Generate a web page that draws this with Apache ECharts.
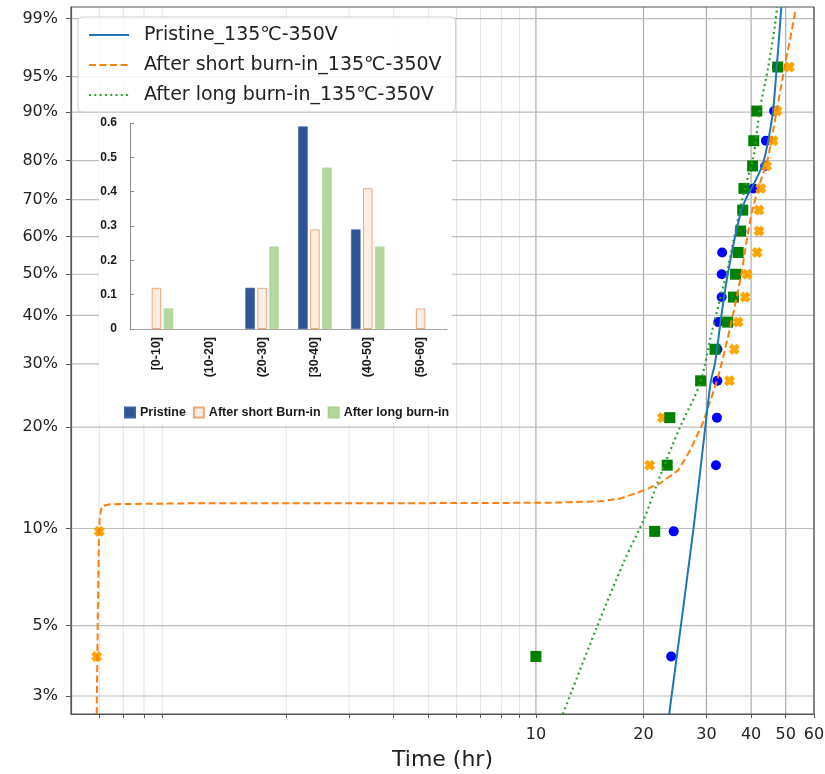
<!DOCTYPE html>
<html><head><meta charset="utf-8">
<script src="https://cdn.jsdelivr.net/npm/echarts@6/dist/echarts.min.js"></script>
<style>html,body{margin:0;padding:0;background:#fff}#c{width:825px;height:774px}</style>
</head><body><div id="c"></div>
<script>
// ---------- data ----------
// axis ranges
const xRange = [0.5, 60];          // hours (log axis)
const yRange = [2.63, 99.34];      // % (Weibull axis)
// tick values
const xMajorTicks = [10, 20, 30, 40, 50, 60];
const xMinorTicks = [0.6, 0.7, 0.8, 0.9, 2, 3, 4, 5, 6, 7, 8, 9];
const yTickLabels = [3, 5, 10, 20, 30, 40, 50, 60, 70, 80, 90, 95, 99];

// plotted unreliability levels (%) shared by the three data sets
const probLevels = [4.0, 9.8, 15.5, 21.3, 27.0, 32.8, 38.5, 44.3, 50.0, 55.7, 61.5, 67.2, 73.0, 78.7, 84.5, 90.2, 96.0];
// failure times (hr)
const pristineTimes = [23.9, 24.3, 31.9, 32.1, 32.2, 32.2, 32.4, 33.1, 33.1, 33.2, 37.6, 38.0, 40.6, 43.8, 44.0, 46.4, 47.3];
const shortTimes    = [0.59, 0.60, 20.8, 22.6, 34.8, 35.9, 36.8, 38.5, 39.0, 41.6, 42.1, 42.1, 42.6, 44.2, 46.1, 47.3, 51.2];
const longTimes     = [10.0, 21.5, 23.3, 23.7, 28.9, 31.7, 34.4, 35.7, 36.2, 36.8, 37.4, 37.9, 38.2, 40.4, 40.7, 41.5, 47.5];

// fitted curves (time hr, unreliability %)
const pristineFitT = [23.6, 27.6, 30.0, 30.9, 31.7, 33.1, 34.2, 35.9, 37.6, 38.9, 41.0, 43.2, 44.7, 46.1, 47.2, 48.0, 48.6];
const pristineFitF = [2.63, 9.99, 21.4, 27.1, 30.1, 40.5, 48.5, 59.0, 67.2, 70.7, 74.7, 79.3, 84.6, 90.3, 96.05, 98.4, 99.34];
const shortFitT = [0.590, 0.595, 0.599, 0.603, 0.610, 0.643, 1.148, 4.16, 10.9, 15.1, 17.2, 19.5, 22.2, 25.0, 27.0, 29.3, 32.3, 34.3, 36.0, 37.6, 38.9, 40.1, 41.5, 44.7, 47.2, 49.7, 52.0, 53.4];
const shortFitF = [2.63, 6.00, 9.88, 10.97, 11.68, 11.85, 11.93, 11.93, 11.97, 12.09, 12.32, 12.90, 13.66, 14.97, 17.15, 20.53, 27.44, 34.6, 41.96, 50.18, 59.0, 66.27, 71.65, 80.86, 90.3, 96.05, 98.54, 99.30];
const longFitT = [11.9, 14.8, 17.7, 20.0, 22.2, 25.3, 28.8, 31.0, 32.7, 34.5, 36.4, 38.3, 40.6, 42.3, 44.7, 46.6, 47.3];
const longFitF = [2.63, 4.94, 7.99, 10.6, 14.3, 20.0, 26.6, 36.1, 43.5, 51.9, 62.6, 72.5, 80.9, 90.3, 96.05, 98.69, 99.34];

// inset histogram
const binLabels = ['[0-10]', '(10-20]', '(20-30]', '[30-40]', '(40-50]', '(50-60]'];
const pristineFrac = [0, 0, 0.12, 0.59, 0.29, 0];
const shortFrac    = [0.12, 0, 0.12, 0.29, 0.41, 0.06];
const longFrac     = [0.06, 0, 0.24, 0.47, 0.24, 0];

const lineNames = ['Pristine_135\u2103-350V', 'After short burn-in_135\u2103-350V', 'After long burn-in_135\u2103-350V'];
const barNames = ['Pristine', 'After short Burn-in', 'After long burn-in'];

// ---------- scales ----------
const chart = echarts.init(document.getElementById('c'), null, { renderer: 'canvas' });
const lg = t => Math.log10(t);
const wb = p => Math.log(-Math.log(1 - p / 100));
const invWb = w => (1 - Math.exp(-Math.exp(w))) * 100;
const pairs = (ts, ps) => ts.map((t, i) => [lg(t), wb(ps[i])]);
const X0 = lg(xRange[0]), X1 = lg(xRange[1]), Y0 = wb(yRange[0]), Y1 = wb(yRange[1]);
const FONT = 'DejaVu Sans';

const series = [];
function gridLine(data, color, width) {
  series.push({ type: 'line', xAxisIndex: 0, yAxisIndex: 0, data, symbol: 'none', silent: true,
    animation: false, lineStyle: { color, width }, z: 0 });
}
xMinorTicks.forEach(v => gridLine([[lg(v), Y0], [lg(v), Y1]], '#e4e4e4', 1));
xMajorTicks.forEach(v => gridLine([[lg(v), Y0], [lg(v), Y1]], '#ababab', 1.2));
yTickLabels.forEach(v => gridLine([[X0, wb(v)], [X1, wb(v)]], '#bdbdbd', 1.2));

const symX = 'path://M0,3 L3,0 L5,2 L7,0 L10,3 L8,5 L10,7 L7,10 L5,8 L3,10 L0,7 L2,5 Z';
series.push({ type: 'scatter', name: 'pts-pristine', data: pairs(pristineTimes, probLevels),
  symbol: 'circle', symbolSize: 10, itemStyle: { color: '#0000ff', opacity: 1 }, z: 2, animation: false });
series.push({ type: 'scatter', name: 'pts-short', data: pairs(shortTimes, probLevels),
  symbol: symX, symbolSize: 11, itemStyle: { color: '#ffa500', opacity: 1 }, z: 3, animation: false });
series.push({ type: 'scatter', name: 'pts-long', data: pairs(longTimes, probLevels),
  symbol: 'rect', symbolSize: 11, itemStyle: { color: '#008000', opacity: 1 }, z: 4, animation: false });

series.push({ type: 'line', name: lineNames[0], data: pairs(pristineFitT, pristineFitF), symbol: 'none',
  smooth: 0.3, lineStyle: { color: '#1f77b4', width: 2 }, itemStyle: { color: '#1f77b4' }, z: 6, animation: false });
series.push({ type: 'line', name: lineNames[1], data: pairs(shortFitT, shortFitF), symbol: 'none',
  smooth: false, lineStyle: { color: '#ff7f0e', width: 2, type: [7, 3.5] }, itemStyle: { color: '#ff7f0e' }, z: 5, animation: false });
series.push({ type: 'line', name: lineNames[2], data: pairs(longFitT, longFitF), symbol: 'none',
  smooth: 0.3, lineStyle: { color: '#2ca02c', width: 2.2, type: [2, 3.3] }, itemStyle: { color: '#2ca02c' }, z: 5, animation: false });

// inset bars
const nz = a => a.map(v => v === 0 ? null : v);
series.push({ type: 'bar', name: barNames[0], xAxisIndex: 1, yAxisIndex: 1, data: nz(pristineFrac),
  barWidth: 9.5, barGap: '26%', itemStyle: { color: '#2f5597', borderColor: '#3a62a8', borderWidth: 0.6 }, z: 60, animation: false });
series.push({ type: 'bar', name: barNames[1], xAxisIndex: 1, yAxisIndex: 1, data: nz(shortFrac),
  barWidth: 9.5, barGap: '26%', itemStyle: { color: '#fdeee4', borderColor: '#f0a878', borderWidth: 1 }, z: 60, animation: false });
series.push({ type: 'bar', name: barNames[2], xAxisIndex: 1, yAxisIndex: 1, data: nz(longFrac),
  barWidth: 9.5, barGap: '26%', itemStyle: { color: '#b5d69f', borderColor: '#a9d18e', borderWidth: 0.6 }, z: 60, animation: false });

const option = {
  backgroundColor: '#fff',
  animation: false,
  grid: [
    { left: 71, right: 11, top: 7, bottom: 60, outerBoundsMode: 'none', containLabel: false,
      show: true, borderColor: '#555', borderWidth: 1.2, backgroundColor: 'transparent', z: 1 },
    { left: 130, top: 123, width: 317, height: 206, outerBoundsMode: 'none', containLabel: false, z: 60 }
  ],
  xAxis: [
    { type: 'value', gridIndex: 0, min: X0, max: X1,
      axisLine: { show: true, onZero: false, lineStyle: { color: '#555', width: 1.2 } },
      axisTick: { show: true, length: 4, lineStyle: { color: '#555' }, customValues: xMinorTicks.concat(xMajorTicks).map(lg) },
      axisLabel: { customValues: xMajorTicks.map(lg), formatter: v => String(Math.round(Math.pow(10, v))),
        fontFamily: FONT, fontSize: 16, color: '#222', margin: 13 },
      splitLine: { show: false },
      name: 'Time (hr)', nameLocation: 'middle', nameGap: 35,
      nameTextStyle: { fontFamily: FONT, fontSize: 22, color: '#222' } },
    { type: 'category', gridIndex: 1, data: binLabels, z: 60,
      axisLine: { show: true, onZero: false, lineStyle: { color: '#a6a6a6', width: 1 } },
      axisTick: { show: false },
      axisLabel: { rotate: 90, interval: 0, fontFamily: 'Liberation Sans', fontWeight: 'bold', fontSize: 12.5, color: '#1a1a1a', margin: 8 },
      splitLine: { show: false } }
  ],
  yAxis: [
    { type: 'value', gridIndex: 0, min: Y0, max: Y1,
      axisLine: { show: true, onZero: false, lineStyle: { color: '#555', width: 1.2 } },
      axisTick: { show: true, length: 5, lineStyle: { color: '#555' }, customValues: yTickLabels.map(wb) },
      axisLabel: { customValues: yTickLabels.map(wb), formatter: v => Math.round(invWb(v)) + '%',
        fontFamily: FONT, fontSize: 16, color: '#222', margin: 13 },
      splitLine: { show: false } },
    { type: 'value', gridIndex: 1, min: 0, max: 0.6, interval: 0.1, z: 60,
      axisLine: { show: true, onZero: false, lineStyle: { color: '#8c8c8c', width: 1 } },
      axisTick: { show: true, inside: true, length: 4, lineStyle: { color: '#8c8c8c' } },
      axisLabel: { formatter: v => v === 0 ? '0' : v.toFixed(1), fontFamily: 'Liberation Sans', fontWeight: 'bold', fontSize: 12, color: '#1a1a1a', margin: 13 },
      splitLine: { show: false } }
  ],
  legend: [
    { data: lineNames, orient: 'vertical', left: 78, top: 17, itemWidth: 40, itemHeight: 14, itemGap: 10,
      padding: [8, 14, 7, 10], backgroundColor: 'rgba(255,255,255,0.85)', borderColor: '#cfcfcf', borderWidth: 1, borderRadius: 4,
      itemStyle: { opacity: 0, color: 'transparent', borderWidth: 0 },
      textStyle: { fontFamily: FONT, fontSize: 19, color: '#222', lineHeight: 20, padding: [0, 0, 0, 10] }, z: 10 },
    { data: barNames, orient: 'horizontal', left: 119, top: 401, itemWidth: 10, itemHeight: 10, itemGap: 7, icon: 'rect',
      textStyle: { fontFamily: 'Liberation Sans', fontWeight: 'bold', fontSize: 12.5, color: '#1a1a1a' }, z: 60 }
  ],
  graphic: { elements: [
    { type: 'rect', shape: { x: 99, y: 113, width: 353, height: 310 }, style: { fill: '#ffffff' }, z: 50, silent: true }
  ] },
  series
};
chart.setOption(option);
</script></body></html>
